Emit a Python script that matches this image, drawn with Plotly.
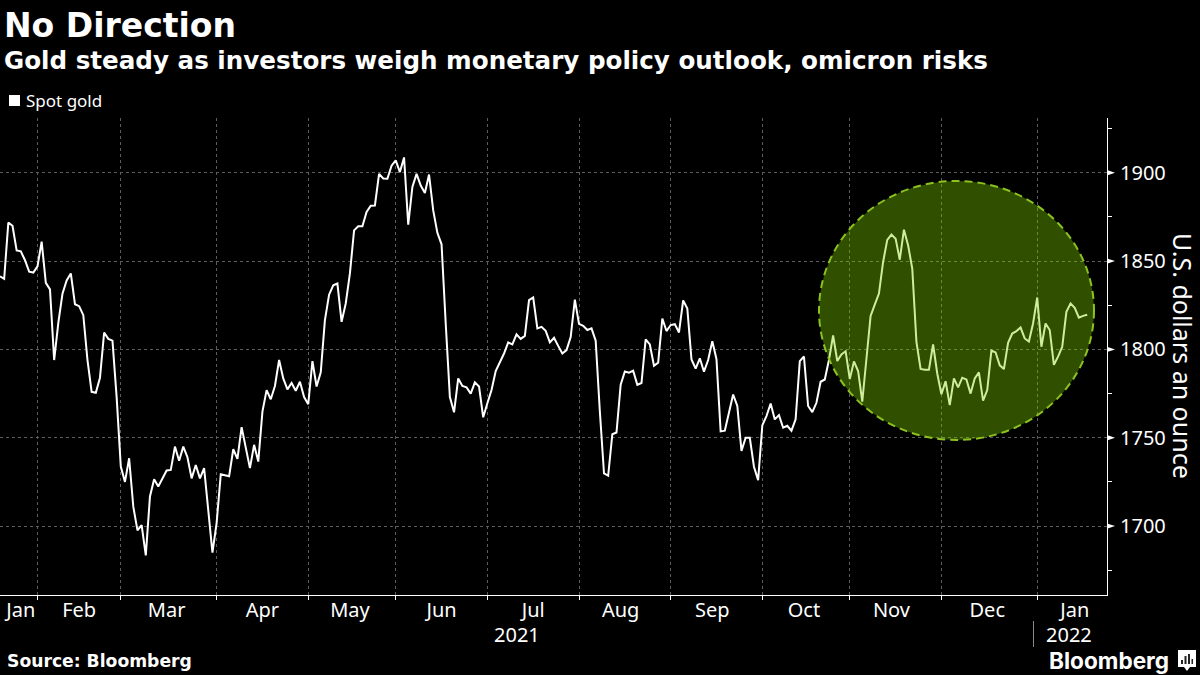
import pandas as pd
import plotly.graph_objects as go

# spot gold, one value per business day
gold = [
    1841.4, 1840, 1871.8, 1870, 1856, 1855.5, 1850.5, 1844, 1843.5, 1847,
    1861, 1837.7, 1834, 1794, 1815, 1831.6, 1839, 1843, 1825.6, 1824.5,
    1819.4, 1794, 1776, 1775.5, 1784, 1809.6, 1806, 1805, 1773, 1733.7,
    1725, 1738.4, 1711, 1697.6, 1700.6, 1683.4, 1716.8, 1726.5, 1722.4, 1727,
    1731.5, 1731.8, 1745, 1737, 1745, 1739, 1727, 1734.6, 1727, 1732.8,
    1709, 1685, 1701.7, 1729.4, 1728.8, 1728.2, 1743.5, 1738, 1756, 1744,
    1732.8, 1746, 1736.5, 1764.8, 1777, 1771.8, 1779.3, 1794, 1783.6, 1777.4,
    1781, 1776.6, 1781.7, 1773, 1769, 1793.4, 1779, 1787, 1816.6, 1831,
    1836.3, 1837.3, 1815.6, 1826, 1843, 1867.4, 1869.7, 1869.7, 1877.8, 1881.4,
    1881.5, 1899.4, 1896.8, 1896.6, 1904, 1907, 1900.4, 1908.7, 1870.6, 1892,
    1899.4, 1892.8, 1888.5, 1899, 1878.7, 1866, 1859.5, 1814.7, 1773, 1764.4,
    1783.6, 1779.3, 1778.5, 1775, 1781.4, 1779, 1761.6, 1769.5, 1777, 1787.8,
    1792.7, 1797.7, 1804, 1802.8, 1808.5, 1806, 1807.7, 1827.9, 1829.4, 1811.9,
    1812.8, 1810.5, 1804, 1806.6, 1802, 1797.7, 1799.6, 1807, 1828.2, 1814.5,
    1813.4, 1811, 1811.9, 1805, 1765, 1729.8, 1728.5, 1752, 1753, 1780,
    1787.5, 1786.8, 1788, 1780, 1781, 1805.7, 1802.8, 1790.8, 1792.5, 1817.5,
    1810.4, 1813.8, 1814.3, 1809.6, 1827.7, 1823.2, 1794.3, 1789.2, 1795, 1787.4,
    1794, 1804.7, 1794.5, 1753.6, 1754, 1764, 1774.5, 1768, 1742.6, 1750,
    1750, 1733.6, 1726, 1757, 1762.3, 1769.4, 1760.4, 1762.8, 1755.7, 1756.8,
    1754, 1760.4, 1793.4, 1796, 1768, 1764.5, 1769.8, 1781.7, 1783, 1794,
    1808, 1793.4, 1797.2, 1799, 1783.2, 1793.2, 1787.8, 1770.4, 1794, 1819,
    1825.4, 1831.6, 1849.5, 1862, 1865, 1862.7, 1850.8, 1867.8, 1859, 1845.8,
    1804.3, 1789, 1788.5, 1788.5, 1802.8, 1786.4, 1774.6, 1782, 1768.5, 1783.6,
    1778.5, 1784, 1783, 1775, 1783.6, 1787, 1771, 1777, 1799.4, 1798.3,
    1791, 1788.9, 1803.8, 1809, 1810.4, 1812.4, 1806.2, 1804.5, 1814.7, 1829.4,
    1801.5, 1814.7, 1811, 1791.3, 1795.9, 1801.5, 1821.3, 1826, 1823.5, 1818,
    1819, 1819.6,
]
dates = pd.bdate_range("2021-01-19", periods=len(gold))

month_starts = ["2021-02-01", "2021-03-01", "2021-04-01", "2021-05-03", "2021-06-01", "2021-07-01",
                "2021-08-02", "2021-09-01", "2021-10-01", "2021-11-01", "2021-12-01", "2022-01-03"]
month_mids = ["2021-01-26", "2021-02-15", "2021-03-16", "2021-04-16", "2021-05-17", "2021-06-16",
              "2021-07-16", "2021-08-16", "2021-09-15", "2021-10-15", "2021-11-15", "2021-12-16", "2022-01-14"]
month_labels = ["Jan", "Feb", "Mar", "Apr", "May", "Jun", "Jul", "Aug", "Sep", "Oct", "Nov", "Dec", "Jan"]
y_labels = [1700, 1750, 1800, 1850, 1900]
y_minor = [1675, 1725, 1775, 1825, 1875, 1925]

W, H = 1200, 675
L, R, T, B = 0, 1107, 118, 595
font = "Noto Sans"
title_font = "DejaVu Sans"
grid = "#5c5c5c"


def px(x):
    return (x - L) / (R - L)


def py(y):
    return (B - y) / (B - T)


def note(x, y, text, size, anchor="left", fam=font, angle=0):
    return dict(xref="paper", yref="paper", x=px(x), y=py(y), text=text, showarrow=False, textangle=angle,
                xanchor=anchor, yanchor="middle", align=anchor, font=dict(family=fam, size=size, color="white"))


def box(x0, y0, x1, y1, color):
    return dict(type="rect", xref="paper", yref="paper", x0=px(x0), x1=px(x1), y0=py(y1), y1=py(y0),
                fillcolor=color, line=dict(width=0))


trace = go.Scatter(x=dates, y=gold, mode="lines", name="Spot gold", showlegend=False,
                   line=dict(color="white", width=2))

# arrow heads on the labelled y ticks
arrows = [dict(type="path", xref="paper", yref="y", fillcolor="white", line=dict(width=0),
               path=f"M {px(1107)} {v + 1.5} L {px(1115)} {v} L {px(1107)} {v - 1.5} Z") for v in y_labels]

layout = go.Layout(
    width=W, height=H, autosize=False,
    paper_bgcolor="black", plot_bgcolor="black",
    margin=dict(l=L, r=W - R, t=T, b=H - B, pad=0),
    font=dict(family=font, color="white"),
    xaxis=dict(
        type="date", range=["2021-01-19", "2022-01-25 18:00"],
        rangebreaks=[dict(bounds=["sat", "mon"])],
        tickmode="array", tickvals=month_mids, ticktext=month_labels,
        ticks="", showgrid=False, zeroline=False, tickfont=dict(size=20, color="white"),
        ticklabelstandoff=-3,
        showline=True, linecolor="white", linewidth=1,
        minor=dict(tickmode="array", tickvals=month_starts, ticks="outside", ticklen=4, tickcolor="white",
                   showgrid=True, gridcolor=grid, griddash="dot", gridwidth=1),
    ),
    yaxis=dict(
        side="right", range=[1661, 1931],
        tickmode="array", tickvals=y_labels, ticks="outside", ticklen=8, tickcolor="black",
        showgrid=True, gridcolor=grid, griddash="dot", gridwidth=1, zeroline=False,
        showline=True, linecolor="white", linewidth=1, tickfont=dict(size=20, color="white"),
        minor=dict(tickmode="array", tickvals=y_minor, ticks="outside", ticklen=4, tickcolor="white", showgrid=False),
    ),
    annotations=[
        note(2, 26, "<b>No Direction</b>", 33, fam=title_font),
        note(2, 60, "<b>Gold steady as investors weigh monetary policy outlook, omicron risks</b>", 24.6, fam=title_font),
        note(24, 101, "Spot gold", 17),
        note(1183, 356, "U.S. dollars an ounce", 25, anchor="center", angle=90),
        note(517, 634, "2021", 20, anchor="center"),
        note(1094, 634, "2022", 20, anchor="right"),
        note(5, 661, "<b>Source: Bloomberg</b>", 17.2, fam=title_font),
        note(1047, 660, "<b>Bloomberg</b>", 22.6, fam="Inter"),
    ],
    shapes=[
        # highlight circle
        dict(type="circle", xref="paper", yref="paper", x0=px(819), x1=px(1094), y0=py(440), y1=py(181),
             fillcolor="rgba(126,210,0,0.38)", line=dict(color="#8cc21f", width=2, dash="8px,5px"), layer="above"),
        # legend swatch
        box(9, 95, 20, 106, "white"),
        # year divider
        dict(type="line", xref="paper", yref="paper", x0=px(1033.5), x1=px(1033.5), y0=py(621), y1=py(647),
             line=dict(color="#888888", width=1)),
        # logo
        box(1178, 650, 1196, 667, "white"),
        dict(type="path", xref="paper", yref="paper", fillcolor="white", line=dict(width=0),
             path=f"M {px(1184)} {py(667)} L {px(1187)} {py(671)} L {px(1190)} {py(667)} Z"),
        box(1181, 660, 1183, 664, "#222222"),
        box(1184.5, 656, 1186.5, 664, "#222222"),
        box(1188, 654, 1190, 664, "#222222"),
        box(1191.5, 659, 1193, 664, "#222222"),
        *arrows,
    ],
)

fig = go.Figure(data=[trace], layout=layout)
fig.write_html("out.html", config=dict(displayModeBar=False),
               post_script="document.body.style.margin='0';document.body.style.background='black';")
